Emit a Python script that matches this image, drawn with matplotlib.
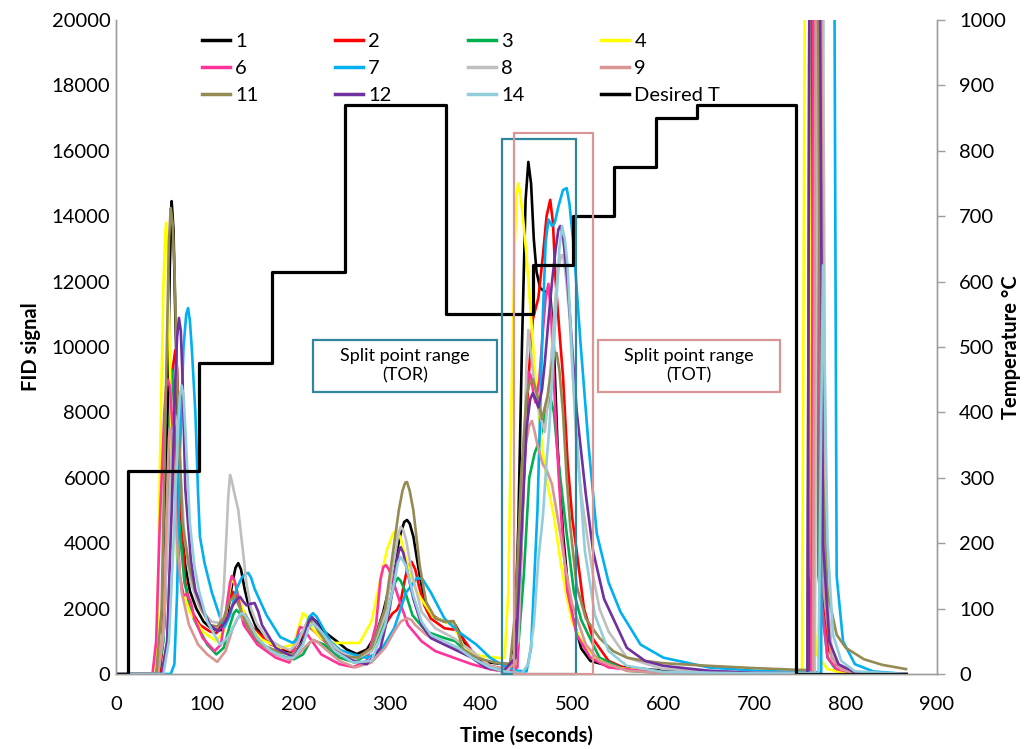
import matplotlib
matplotlib.use("Agg")
import matplotlib.pyplot as plt
from matplotlib.patches import Rectangle

plt.rcParams['font.family'] = ['Lato', 'DejaVu Sans']

# ---------------- data (time in s, FID signal) ----------------
t1 = [0, 45, 50, 53, 56, 59, 61, 63, 65, 68, 72, 76, 81, 88, 96, 104, 110, 117, 122, 127, 131, 134, 137, 141, 147, 154, 165, 175, 186, 196, 202, 208, 215, 220, 228, 242, 253, 264, 275, 285, 293, 300, 306, 312, 316, 319, 322, 326, 333, 338, 344, 352, 360, 366, 372, 378, 385, 392, 400, 410, 420, 433, 437, 441, 445, 449, 452, 455, 458, 461, 465, 470, 476, 480, 484, 490, 495, 500, 510, 520, 540, 600, 700, 750, 764, 770, 776, 782, 790, 800, 820, 866]
v1 = [0, 0, 600, 2500, 7000, 12500, 14460, 13600, 11000, 7500, 4620, 3300, 2540, 2000, 1600, 1400, 1350, 1340, 1800, 2700, 3250, 3390, 3200, 2600, 1900, 1400, 1100, 900, 720, 640, 900, 1400, 1710, 1600, 1300, 1000, 750, 610, 750, 1200, 1900, 2700, 3500, 4300, 4650, 4710, 4600, 4200, 3000, 2300, 1860, 1700, 1600, 1550, 1500, 1200, 800, 550, 420, 350, 320, 300, 1000, 4500, 10000, 14500, 15660, 15000, 13300, 12300, 11800, 11700, 11650, 10000, 7000, 4300, 2800, 1800, 780, 400, 250, 100, 30, 20, 20, 40000, 3000, 800, 300, 100, 20, 0]

t2 = [0, 48, 53, 57, 60, 62, 65, 67, 69, 72, 76, 81, 92, 103, 110, 118, 123, 128, 132, 138, 150, 170, 192, 200, 207, 212, 218, 225, 245, 262, 280, 295, 303, 308, 312, 316, 320, 324, 328, 332, 338, 345, 360, 372, 380, 390, 410, 435, 441, 447, 452, 457, 463, 468, 472, 476, 479, 482, 486, 490, 495, 500, 505, 513, 523, 540, 560, 600, 700, 760, 766, 772, 780, 790, 800, 820, 866]
v2 = [0, 0, 1500, 5650, 8300, 9300, 9900, 9300, 7500, 4600, 2800, 2000, 1500, 1300, 1250, 1600, 2100, 2510, 2400, 2000, 1400, 900, 700, 1000, 1350, 1440, 1300, 1100, 600, 450, 800, 1500, 1850, 1960, 2200, 2800, 3300, 3430, 3200, 2700, 2100, 1700, 1400, 1350, 1100, 700, 250, 100, 1500, 6000, 9000, 10860, 11500, 12800, 14000, 14500, 13800, 12000, 10500, 9110, 6500, 4800, 3760, 2000, 1070, 400, 150, 50, 20, 20, 40000, 3000, 800, 300, 100, 20, 0]

t3 = [0, 46, 52, 57, 59, 61, 63, 65, 68, 75, 85, 100, 110, 118, 125, 129, 132, 136, 140, 155, 175, 195, 205, 212, 216, 221, 228, 245, 262, 280, 295, 302, 306, 309, 312, 316, 325, 340, 360, 372, 390, 410, 435, 440, 447, 453, 459, 465, 471, 476, 480, 485, 494, 502, 510, 530, 560, 600, 700, 758, 764, 770, 780, 790, 810, 866]
v3 = [0, 0, 1000, 5000, 7800, 9300, 8700, 7200, 5000, 2800, 1700, 900, 600, 800, 1500, 1850, 1960, 1850, 1600, 1000, 600, 450, 600, 950, 1040, 980, 900, 500, 350, 700, 1600, 2400, 2800, 2940, 2850, 2600, 1800, 1300, 1100, 1000, 500, 150, 50, 500, 3000, 6000, 6760, 7200, 8000, 8470, 8000, 6500, 4310, 2500, 1650, 500, 100, 30, 10, 10, 40000, 3000, 500, 100, 20, 0]

t4 = [0, 40, 45, 48, 52, 54, 55, 56, 58, 61, 66, 72, 81, 95, 110, 118, 123, 127, 131, 135, 145, 160, 180, 195, 201, 205, 209, 215, 225, 235, 267, 280, 289, 297, 304, 308, 312, 318, 325, 333, 348, 360, 370, 380, 390, 400, 421, 426, 430, 434, 437, 439, 441, 443, 446, 450, 454, 460, 467, 473, 480, 487, 494, 500, 509, 525, 545, 600, 700, 752, 758, 762, 768, 780, 800, 866]
v4 = [0, 0, 800, 6180, 11860, 13500, 13800, 13400, 11000, 6700, 3700, 2600, 1900, 1300, 1000, 1300, 2300, 2900, 2750, 2300, 1500, 1050, 800, 900, 1500, 1860, 1750, 1400, 1100, 950, 950, 1600, 2780, 3800, 4310, 4400, 4150, 3500, 2800, 2360, 1740, 1600, 1500, 900, 650, 550, 490, 500, 2500, 9000, 13000, 14600, 15010, 14700, 14000, 12800, 11280, 9000, 6970, 5800, 4830, 3500, 2360, 1600, 1070, 500, 200, 50, 20, 10, 40000, 3000, 600, 150, 20, 0]

t6 = [0, 40, 44, 48, 53, 55, 57, 59, 61, 64, 67, 70, 74, 78, 82, 86, 95, 108, 115, 121, 125, 127, 130, 133, 140, 155, 175, 190, 196, 200, 202, 205, 210, 225, 245, 260, 275, 285, 290, 293, 296, 299, 302, 310, 320, 335, 350, 370, 390, 410, 430, 440, 446, 450, 452, 455, 458, 460, 464, 468, 471, 474, 477, 480, 483, 486, 490, 495, 505, 520, 540, 600, 700, 762, 767, 772, 780, 790, 810, 866]
v6 = [0, 0, 1000, 4600, 8000, 8800, 9000, 8800, 8000, 6500, 4600, 3000, 2400, 2450, 2200, 1700, 1100, 700, 900, 2000, 2800, 3000, 2850, 2500, 1500, 900, 500, 350, 800, 1300, 1440, 1400, 1200, 600, 300, 210, 400, 1500, 2900, 3270, 3330, 3200, 3000, 2300, 1500, 1000, 700, 500, 300, 150, 50, 200, 5000, 8600, 9240, 9100, 8500, 8300, 9000, 10500, 11500, 11930, 11000, 9000, 7200, 5710, 4000, 2500, 1200, 500, 200, 30, 10, 10, 40000, 2500, 500, 150, 20, 0]

t7 = [0, 60, 64, 67, 70, 74, 77, 79, 81, 83, 87, 90, 92, 97, 105, 114, 119, 125, 132, 138, 142, 145, 148, 152, 165, 180, 194, 205, 212, 216, 220, 225, 235, 246, 260, 275, 290, 305, 318, 324, 330, 336, 345, 360, 375, 395, 410, 425, 440, 450, 455, 462, 468, 471, 474, 478, 481, 485, 490, 494, 497, 502, 509, 518, 527, 540, 553, 575, 600, 650, 700, 750, 773, 777, 785, 790, 797, 810, 830, 866]
v7 = [0, 0, 300, 2500, 6700, 10000, 11000, 11190, 10800, 10000, 8000, 5500, 4200, 3400, 2500, 1740, 1440, 1800, 2600, 2950, 3070, 3090, 2950, 2600, 1800, 1130, 950, 1300, 1750, 1860, 1750, 1500, 1000, 730, 600, 490, 700, 1400, 2500, 2700, 2940, 2900, 2500, 1700, 1300, 900, 500, 250, 100, 80, 800, 5000, 11000, 13200, 13900, 13700, 13800, 14300, 14800, 14860, 14400, 13000, 10200, 7000, 4300, 2800, 1900, 900, 500, 200, 100, 60, 50, 40000, 40000, 3000, 1000, 300, 80, 0]

t8 = [0, 46, 52, 58, 62, 65, 67, 70, 75, 82, 92, 105, 114, 118, 121, 123, 125, 127, 130, 134, 139, 143, 148, 154, 165, 180, 191, 200, 206, 210, 214, 218, 230, 245, 262, 280, 295, 305, 309, 312, 315, 318, 325, 335, 350, 370, 390, 410, 430, 441, 447, 450, 452, 455, 458, 464, 470, 474, 478, 482, 485, 488, 490, 493, 497, 501, 505, 510, 515, 523, 530, 540, 560, 600, 700, 766, 772, 778, 785, 795, 810, 866]
v8 = [0, 0, 1200, 5000, 7300, 7900, 7600, 6500, 4200, 2800, 2000, 1600, 1560, 2500, 4200, 5400, 6090, 5900, 5500, 5020, 3800, 2780, 2000, 1560, 1100, 850, 730, 1000, 1400, 1600, 1600, 1500, 1100, 700, 450, 700, 1800, 3500, 4200, 4500, 4400, 4100, 3000, 1900, 1400, 1100, 700, 250, 100, 1000, 6000, 9500, 10520, 9800, 9000, 8000, 7400, 8500, 10000, 11600, 12400, 12800, 12810, 12200, 11000, 9000, 6970, 5500, 4500, 3000, 2000, 1300, 500, 150, 40, 30, 40000, 3000, 600, 150, 20, 0]

t9 = [0, 46, 52, 56, 58, 59, 61, 63, 67, 72, 80, 90, 100, 111, 120, 128, 133, 136, 140, 145, 160, 175, 191, 200, 208, 216, 221, 228, 245, 262, 280, 295, 305, 312, 319, 324, 328, 340, 360, 380, 400, 420, 438, 443, 449, 453, 456, 459, 462, 468, 472, 478, 487, 493, 500, 515, 530, 560, 600, 700, 764, 770, 776, 784, 795, 810, 866]
v9 = [0, 0, 1500, 5500, 7200, 7520, 7200, 6500, 4000, 2500, 1500, 900, 600, 370, 700, 1400, 1700, 1760, 1680, 1500, 900, 600, 430, 600, 850, 1040, 980, 800, 400, 200, 350, 800, 1300, 1600, 1710, 1650, 1500, 1200, 900, 700, 350, 100, 300, 4000, 7000, 7600, 7740, 7400, 7000, 6400, 6240, 5800, 4310, 3200, 2140, 900, 400, 100, 30, 10, 10, 40000, 2500, 500, 150, 20, 0]

t11 = [0, 44, 50, 55, 58, 60, 62, 64, 68, 73, 80, 87, 95, 103, 111, 118, 124, 130, 136, 145, 160, 180, 195, 205, 210, 213, 217, 222, 235, 250, 265, 280, 295, 305, 310, 314, 317, 319, 322, 326, 333, 340, 350, 360, 370, 375, 380, 395, 415, 432, 438, 444, 450, 454, 457, 462, 467, 473, 478, 481, 483, 486, 490, 494, 498, 505, 515, 530, 545, 560, 580, 600, 650, 700, 745, 758, 762, 766, 772, 780, 790, 800, 820, 840, 866]
v11 = [0, 0, 2000, 9000, 13200, 14250, 13800, 12500, 8000, 4620, 3300, 2540, 1900, 1500, 1450, 1700, 2200, 2400, 2000, 1400, 900, 650, 600, 1000, 1500, 1650, 1550, 1300, 800, 550, 500, 800, 2000, 4000, 5000, 5600, 5850, 5870, 5600, 5000, 3300, 2200, 1700, 1600, 1620, 1300, 760, 500, 350, 300, 2000, 6000, 8500, 8950, 9020, 8500, 7800, 8500, 9500, 9800, 9820, 9300, 8000, 6000, 4500, 2690, 1700, 1100, 700, 500, 400, 330, 250, 180, 130, 120, 40000, 40000, 8000, 2500, 1200, 800, 450, 280, 150]

t12 = [0, 50, 56, 61, 65, 67, 69, 71, 73, 76, 82, 87, 95, 103, 112, 120, 128, 133, 136, 140, 143, 148, 152, 156, 160, 175, 195, 205, 211, 215, 219, 225, 240, 260, 275, 290, 300, 307, 310, 312, 315, 318, 326, 335, 345, 360, 375, 390, 405, 425, 438, 444, 450, 454, 457, 460, 463, 467, 470, 474, 478, 482, 485, 487, 490, 495, 500, 505, 515, 523, 535, 545, 560, 580, 600, 650, 700, 758, 762, 768, 775, 782, 792, 810, 866]
v12 = [0, 0, 1000, 5000, 9000, 10300, 10890, 10500, 9000, 5650, 3500, 2540, 2000, 1500, 1300, 1600, 2100, 2300, 2360, 2200, 2100, 2150, 2170, 1900, 1500, 800, 500, 1000, 1600, 1740, 1600, 1300, 700, 400, 300, 800, 2000, 3300, 3750, 3880, 3700, 3300, 2300, 1500, 1100, 900, 700, 500, 200, 100, 500, 4000, 7500, 8400, 8590, 8400, 8150, 8700, 9500, 10800, 12000, 13000, 13600, 13700, 13400, 12000, 10000, 8040, 5500, 3760, 2300, 1700, 800, 400, 250, 100, 30, 20, 40000, 40000, 4000, 1000, 300, 50, 0]

t14 = [0, 52, 58, 63, 68, 70, 72, 74, 76, 81, 86, 91, 100, 110, 114, 122, 130, 135, 138, 142, 146, 155, 170, 185, 195, 205, 211, 216, 220, 225, 240, 260, 280, 295, 305, 309, 312, 315, 318, 326, 335, 345, 360, 375, 390, 410, 430, 445, 452, 458, 463, 468, 472, 475, 482, 486, 489, 492, 495, 501, 508, 514, 525, 540, 560, 600, 700, 770, 775, 780, 786, 795, 810, 866]
v14 = [0, 0, 1000, 4000, 7500, 8500, 8820, 8500, 7500, 4600, 3300, 2540, 1600, 1100, 900, 1100, 1500, 1800, 1860, 1780, 1600, 1100, 700, 500, 500, 900, 1400, 1560, 1450, 1300, 700, 350, 400, 1500, 2800, 3400, 3580, 3450, 3300, 2400, 1600, 1200, 1000, 800, 500, 200, 50, 30, 300, 1500, 3500, 4830, 6500, 7500, 11000, 13000, 13700, 13300, 12500, 9110, 6000, 3760, 1800, 700, 250, 60, 20, 20, 12500, 4000, 1200, 400, 80, 0]

# Desired temperature program (step changes, °C)
t_desired = [0, 13, 91, 171, 251, 362, 457, 501, 546, 592, 637, 745, 866]
T_desired = [0, 310, 475, 615, 870, 550, 625, 700, 775, 850, 870, 0, 0]

series_labels = ['1', '2', '3', '4', '6', '7', '8', '9', '11', '12', '14']
series_t = [t1, t2, t3, t4, t6, t7, t8, t9, t11, t12, t14]
series_v = [v1, v2, v3, v4, v6, v7, v8, v9, v11, v12, v14]
series_colors = ['#000000', '#FF0000', '#00B050', '#FFFF00', '#FF3399', '#00B0F0',
                 '#BFBFBF', '#D99694', '#948A54', '#7030A0', '#92CDDC']

# annotation boxes (time, FID units)
tor_rect = (423, 504, 16360)
tot_rect = (436, 523, 16540)
tor_label = (216, 418, 8624, 10214)
tot_label = (528, 728, 8624, 10214)
teal = '#31859C'
rose = '#D99694'

# ---------------- figure ----------------
fig = plt.figure(figsize=(10.28, 7.49), dpi=100)
ax = fig.add_axes([116/1028, 75/749, 821/1028, 654/749])
ax2 = ax.twinx()

handles = {}
for lab, tt, vv, c in zip(series_labels, series_t, series_v, series_colors):
    ln, = ax.plot(tt, vv, color=c, lw=1.9, solid_joinstyle='round')
    handles[lab] = ln

dl, = ax2.plot(t_desired, T_desired, drawstyle='steps-post', color='black', lw=2.3)
handles['Desired T'] = dl

ax.set_xlim(0, 900)
ax.set_ylim(0, 20000)
ax2.set_ylim(0, 1000)
ax.set_xticks(range(0, 901, 100))
ax.set_yticks(range(0, 20001, 2000))
ax2.set_yticks(range(0, 1001, 100))

spine_c = '#9E9E9E'
for a in (ax, ax2):
    for s in a.spines.values():
        s.set_color(spine_c)
        s.set_linewidth(1.0)
    a.spines['top'].set_visible(False)

ax.tick_params(axis='x', length=0, pad=16, labelsize=14.5)
ax.tick_params(axis='y', length=0, pad=4, labelsize=14.5)
ax2.tick_params(axis='y', length=6, width=1, color=spine_c, pad=10, labelsize=14.5)

ax.set_xlabel('Time (seconds)', fontsize=14.5, fontweight='bold', labelpad=9)
ax.set_ylabel('FID signal', fontsize=14.5, fontweight='bold', labelpad=8)
ax2.set_ylabel('Temperature °C', fontsize=14.5, fontweight='bold')
ax2.yaxis.set_label_coords(1.0 + 64/821, 0.5)

# range rectangles
for (x0, x1, top), c in ((tor_rect, teal), (tot_rect, rose)):
    ax2.add_patch(Rectangle((x0, 0), x1 - x0, top, transform=ax.transData,
                            fill=False, edgecolor=c, lw=1.6, zorder=5, clip_on=False))

for (x0, x1, y0, y1), c, txt in ((tor_label, teal, 'Split point range\n(TOR)'),
                                 (tot_label, rose, 'Split point range\n(TOT)')):
    ax2.add_patch(Rectangle((x0, y0), x1 - x0, y1 - y0, transform=ax.transData,
                            facecolor='white', edgecolor=c, lw=1.6, zorder=6))
    ax2.text((x0 + x1) / 2, (y0 + y1) / 2, txt, transform=ax.transData,
             ha='center', va='center', fontsize=13, zorder=7, linespacing=1.25)

order = ['1', '6', '11', '2', '7', '12', '3', '8', '14', '4', '9', 'Desired T']
leg = ax2.legend([handles[k] for k in order], order, ncol=4, loc='upper left',
                 bbox_to_anchor=(202/1028, 1 - 33/749), bbox_transform=fig.transFigure,
                 frameon=False, fontsize=14.5, handlelength=1.4, handletextpad=0.25,
                 columnspacing=3.8, labelspacing=0.5, borderpad=0, borderaxespad=0)
for h in leg.get_lines():
    h.set_linewidth(2.5)

fig.savefig('out.png', dpi=100)
